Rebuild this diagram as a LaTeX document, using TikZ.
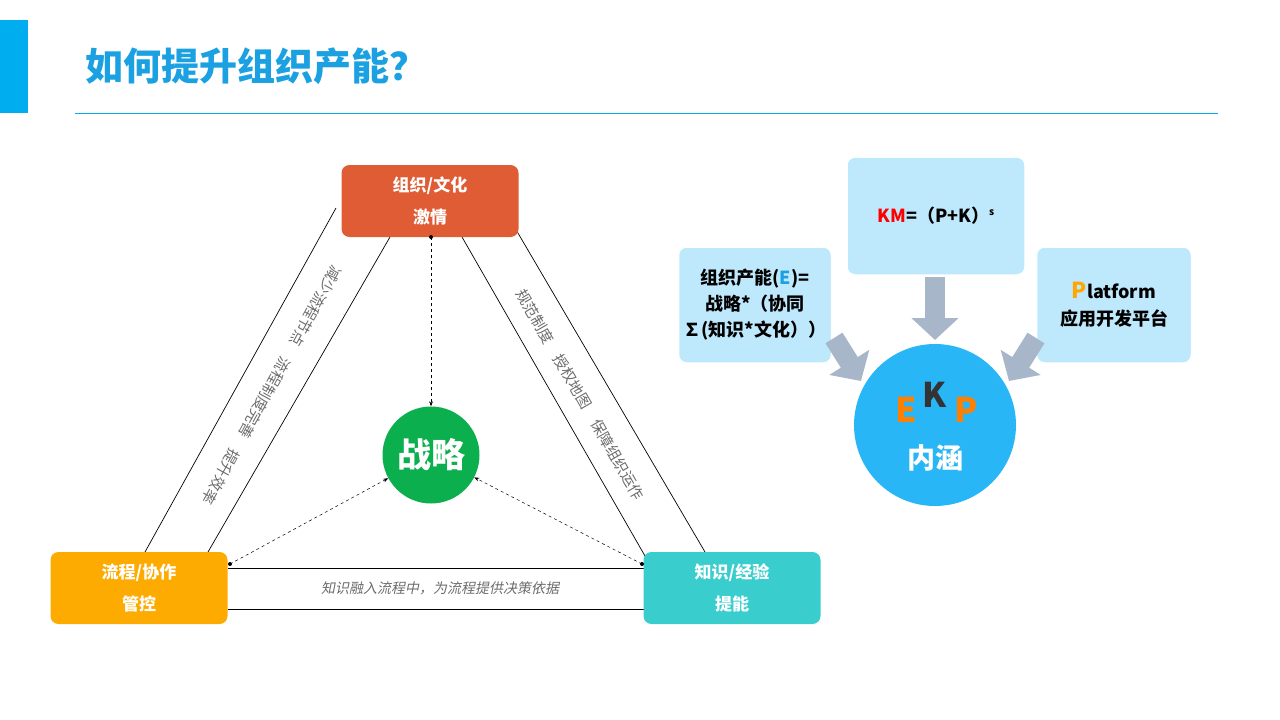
\documentclass[tikz,border=0pt]{standalone}
\usepackage{fontspec}
\setmainfont{Noto Sans CJK SC}
\newfontfamily\slantcjk[FakeSlant=0.2]{Noto Sans CJK SC}
\usetikzlibrary{arrows.meta}
\definecolor{tblue}{HTML}{1BA1E2}
\definecolor{bar}{HTML}{00AEEF}
\definecolor{lb}{HTML}{BEE8FC}
\definecolor{gar}{HTML}{A8B6C9}
\tikzset{
 box/.style={rounded corners=8pt,minimum width=177pt,minimum height=72pt,text=white,font=\bfseries\fontsize{17}{32}\selectfont,align=center,inner sep=0pt},
 lbox/.style={rounded corners=8pt,fill=lb,draw=white,line width=1.5pt,align=center,font=\bfseries\fontsize{18}{27}\selectfont,inner sep=0pt},
 dasharrow/.style={dashed,-{Stealth[length=5pt]},line width=0.5pt},
 band/.style={line width=0.7pt},
 bt/.style={text=gray!85!black,font=\fontsize{15}{15}\selectfont},
 garr/.style={draw=gar,line width=20pt,-{Triangle[length=22pt,width=46pt]}}
}
\begin{document}
\begin{tikzpicture}[x=1pt,y=-1pt]
\useasboundingbox (0,0) rectangle (1280,720);
\fill[bar] (0,20) rectangle (28,113);
\node[anchor=west,text=tblue,font=\bfseries\fontsize{38}{38}\selectfont] (title) at (82,66) {如何提升组织产能？};
\draw[bar,line width=1pt] (75,113) coordinate (l1) -- (1218,113) coordinate (l2);
% bands
\draw[band] (336,208) coordinate (a1) -- (145,552) coordinate (a2);
\draw[band] (390,237) coordinate (a3) -- (208,552) coordinate (a4);
\draw[band] (462,237) coordinate (b1) -- (645,556) coordinate (b2);
\draw[band] (515,228) coordinate (b3) -- (705,552) coordinate (b4);
\draw[band] (228,568) coordinate (c1) -- (644,568) coordinate (c2);
\draw[band] (228,609) coordinate (c3) -- (644,609) coordinate (c4);
\node[bt,rotate=-119] (t1) at (272,385) {减少流程节点\quad 流程制度完善\quad 提升效率};
\node[bt,rotate=-60] (t2) at (580,395) {规范制度\quad 授权地图\quad 保障组织运作};
\node[bt,font=\slantcjk\fontsize{14}{14}\selectfont] (t3) at (440,588) {知识融入流程中，为流程提供决策依据};
% nodes
\node[box,fill={rgb,255:red,224;green,92;blue,53}] (org) at (430,201) {组织/文化\\激情};
\node[box,fill={rgb,255:red,253;green,171;blue,0}] (flow) at (139,588) {流程/协作\\管控};
\node[box,fill={rgb,255:red,58;green,205;blue,206}] (know) at (732,588) {知识/经验\\提能};
\node[circle,fill={rgb,255:red,11;green,175;blue,77},minimum size=97pt,text=white,font=\bfseries\fontsize{34}{34}\selectfont,inner sep=0pt] (str) at (431,455) {战略};
\fill (431,237) circle (2pt) (230,564) circle (2pt) (642,564) circle (2pt);
\draw[dasharrow] (431,237) -- (str);
\draw[dasharrow] (230,564) -- (str);
\draw[dasharrow] (642,564) -- (str);
% right
\node[lbox,minimum width=178pt,minimum height=118pt] (km) at (936,216) {\textcolor{red}{KM}=（P+K）\raisebox{7pt}{\fontsize{10}{10}\selectfont s}};
\node[lbox,minimum width=153pt,minimum height=116pt,font=\bfseries\fontsize{18}{26}\selectfont] (e) at (755,305) {组织产能(\textcolor{tblue}{E})=\\战略*（协同\\∑(知识*文化））};
\node[lbox,minimum width=155pt,minimum height=116pt] (p) at (1114,305) {\textcolor{orange!70!yellow}{\fontsize{22}{22}\selectfont P}latform\\应用开发平台};
\node[circle,fill={rgb,255:red,41;green,182;blue,246},minimum size=162pt,inner sep=0pt] (ekp) at (935,425) {};
\node[text=orange,font=\bfseries\itshape\fontsize{34}{34}\selectfont] (le) at (906,410) {E};
\node[text=black!80,font=\bfseries\itshape\fontsize{34}{34}\selectfont] (lk) at (935,395) {K};
\node[text=orange,font=\bfseries\itshape\fontsize{34}{34}\selectfont] (lp) at (966,410) {P};
\node[text=white,font=\bfseries\fontsize{28}{28}\selectfont] (nh) at (935,458) {内涵};
\draw[garr] (935,277) -- (935,340);
\draw[garr] (834,338) -- (861,381);
\draw[garr] (1036,338) -- (1009,381);
\end{tikzpicture}
\end{document}
